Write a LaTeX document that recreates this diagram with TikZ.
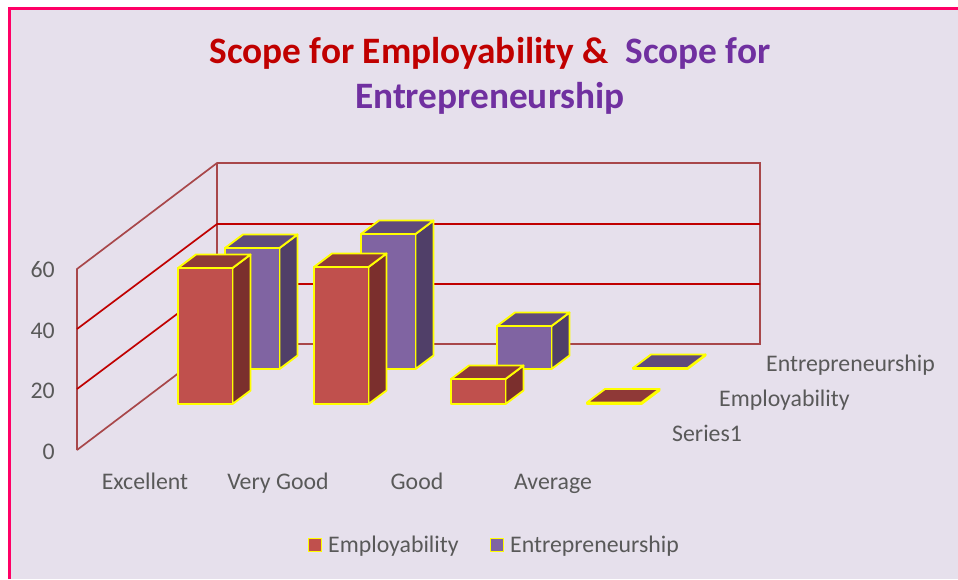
\documentclass[tikz,border=0pt]{standalone}
\usepackage{fontspec}
\setmainfont{Carlito}
\definecolor{bgc}{HTML}{E6E0EC}
\definecolor{framec}{HTML}{FF0066}
\definecolor{gridbr}{HTML}{A8474A}
\definecolor{gridrd}{HTML}{C00000}
\definecolor{txtc}{HTML}{595959}
\definecolor{titlered}{HTML}{C00000}
\definecolor{titlepurple}{HTML}{7030A0}
\definecolor{empfront}{HTML}{C0504D}
\definecolor{empside}{HTML}{7B2F2D}
\definecolor{emptop}{HTML}{8F3937}
\definecolor{entfront}{HTML}{8064A2}
\definecolor{entside}{HTML}{503F68}
\definecolor{enttop}{HTML}{604A7B}
\definecolor{edgey}{HTML}{FFFF00}
\newcommand\drawbox[6]{% x, ybottom, ytop, front, side, top
  \filldraw[barline,fill=#5] (#1+54.5,#2) -- (#1+72.5,#2-13.5) -- (#1+72.5,#3-13.5) -- (#1+54.5,#3) -- cycle;
  \filldraw[barline,fill=#6] (#1,#3) -- (#1+18,#3-13.5) -- (#1+72.5,#3-13.5) -- (#1+54.5,#3) -- cycle;
  \filldraw[barline,fill=#4] (#1,#2) rectangle (#1+54.5,#3);
}
\begin{document}
\begin{tikzpicture}[x=1pt,y=-1pt,
  barline/.style={draw=edgey, line width=1.9pt, line join=round},
  gbr/.style={draw=gridbr, line width=1.7pt},
  grd/.style={draw=gridrd, line width=1.7pt},
  lbl/.style={font=\fontsize{23.8}{28}\selectfont, text=txtc, inner sep=0pt},
  ttl/.style={font=\fontsize{37.3}{44}\selectfont\bfseries, inner sep=0pt}]
\useasboundingbox (0,0) rectangle (958,579);
\fill[white] (0,0) rectangle (958,579);
\fill[bgc] (9,8) rectangle (958,579);
\draw[framec, line width=3pt] (9,579) -- (9,8) -- (958,8);
% title
\node[ttl, anchor=base] (t1) at (490,63) {\textcolor{titlered}{Scope for Employability \&}\ \ \textcolor{titlepurple}{Scope for}};
\node[ttl, anchor=base, text=titlepurple] (t2) at (490,108) {Entrepreneurship};
% walls
\draw[gbr] (77,450) -- (77,269) -- (217,163) -- (760,163) -- (760,344) -- (217,344) -- (77,450);
\draw[gbr] (217,163) -- (217,344);
\draw[grd] (77,329) -- (217,224) -- (760,224);
\draw[grd] (77,389) -- (217,284) -- (760,284);
% axis labels
\node[lbl, anchor=base east] (v60) at (55,277) {60};
\node[lbl, anchor=base east] (v40) at (55,338) {40};
\node[lbl, anchor=base east] (v20) at (55,398) {20};
\node[lbl, anchor=base east] (v0) at (55,459) {0};
% Entrepreneurship row
\drawbox{225}{369}{248}{entfront}{entside}{enttop}
\drawbox{361}{369}{234}{entfront}{entside}{enttop}
\drawbox{497}{369}{326}{entfront}{entside}{enttop}
\drawbox{633}{369}{368}{enttop}{enttop}{enttop}
% Employability row
\drawbox{178}{404}{268}{empfront}{empside}{emptop}
\drawbox{314}{404}{267}{empfront}{empside}{emptop}
\drawbox{451}{404}{379}{empfront}{empside}{emptop}
\drawbox{587}{404}{402.5}{emptop}{emptop}{emptop}
% categories
\node[lbl, anchor=base] (c1) at (145,489) {Excellent};
\node[lbl, anchor=base] (c2) at (278,489) {Very Good};
\node[lbl, anchor=base] (c3) at (417,489) {Good};
\node[lbl, anchor=base] (c4) at (553,489) {Average};
% series labels
\node[lbl, anchor=base west] (s3) at (766,371) {Entrepreneurship};
\node[lbl, anchor=base west] (s2) at (719,406) {Employability};
\node[lbl, anchor=base west] (s1) at (672,441) {Series1};
% legend
\filldraw[barline, fill=empfront] (308.5,538.5) rectangle (321.5,551.5);
\node[lbl, anchor=base west] (l1) at (328,552) {Employability};
\filldraw[barline, fill=entfront] (490.5,538.5) rectangle (503.5,551.5);
\node[lbl, anchor=base west] (l2) at (510,552) {Entrepreneurship};
\end{tikzpicture}
\end{document}
